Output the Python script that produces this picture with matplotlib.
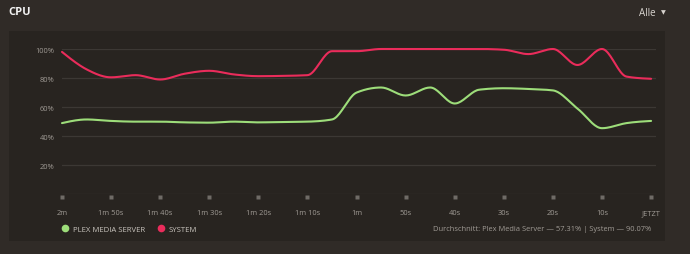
import matplotlib.pyplot as plt
import numpy as np
from matplotlib.lines import Line2D
from matplotlib.patches import Rectangle

# seconds since the start of the 2 minute window, one sample every 5 s
seconds = [0, 5, 10, 15, 20, 25, 30, 35, 40, 45, 50, 55, 60,
           65, 70, 75, 80, 85, 90, 95, 100, 105, 110, 115, 120]
plex = [49, 51.5, 50.5, 50, 50, 49.5, 49.3, 50, 49.5, 49.8, 50, 51.5, 70,
        73.5, 68, 73.5, 62.5, 72, 73, 72.5, 71.5, 59, 45.5, 49, 50.5]
system = [98, 86, 80.5, 82, 79, 83, 85, 82.5, 81.3, 81.5, 82, 98.5, 98.5,
          100, 100, 100, 100, 100, 99.5, 96.5, 100, 89, 100, 81, 79.5]
tick_pos = [0, 10, 20, 30, 40, 50, 60, 70, 80, 90, 100, 110, 120]
tick_labels = ['2m', '1m 50s', '1m 40s', '1m 30s', '1m 20s', '1m 10s', '1m',
               '50s', '40s', '30s', '20s', '10s', 'JETZT']
y_ticks = [20, 40, 60, 80, 100]

W, H = 690, 255
BG = '#302b27'
PANEL = '#282420'
GRID = '#3c3834'
TXT = '#a09b95'
GREEN = '#9ddd7a'
RED = '#ea2c5b'

plt.rcParams['font.family'] = ['Open Sans', 'DejaVu Sans']


def monotone(x, y, n=20):
    # d3 curveMonotoneX style slopes, evaluated as cubic hermite
    x = np.asarray(x, float)
    y = np.asarray(y, float)
    h = np.diff(x)
    s = np.diff(y) / h
    m = np.zeros_like(y)
    for i in range(1, len(x) - 1):
        p = (s[i - 1] * h[i] + s[i] * h[i - 1]) / (h[i - 1] + h[i])
        m[i] = (np.sign(s[i - 1]) + np.sign(s[i])) * min(abs(s[i - 1]), abs(s[i]), 0.5 * abs(p))
    m[0] = (3 * s[0] - m[1]) / 2
    m[-1] = (3 * s[-1] - m[-2]) / 2
    xs, ys = [], []
    for i in range(len(x) - 1):
        t = np.linspace(0, 1, n, endpoint=False)
        h00 = 2 * t**3 - 3 * t**2 + 1
        h10 = t**3 - 2 * t**2 + t
        h01 = -2 * t**3 + 3 * t**2
        h11 = t**3 - t**2
        xs.append(x[i] + t * h[i])
        ys.append(h00 * y[i] + h10 * h[i] * m[i] + h01 * y[i + 1] + h11 * h[i] * m[i + 1])
    xs.append([x[-1]])
    ys.append([y[-1]])
    return np.concatenate(xs), np.concatenate(ys)


def fx(px):
    return px / W


def fy(py):
    return 1 - py / H


fig = plt.figure(figsize=(W / 100, H / 100), dpi=100, facecolor=BG)
fig.patches.append(Rectangle((fx(9), fy(242)), fx(656), 210 / H,
                             transform=fig.transFigure, facecolor=PANEL,
                             edgecolor='none', zorder=-1))

ax = fig.add_axes([fx(62), fy(195.3), fx(656 - 62), (195.3 - 50) / H])
ax.set_facecolor('none')
ax.set_xlim(0, 121)
ax.set_ylim(0, 100)
for sp in ax.spines.values():
    sp.set_visible(False)

for v in [0] + y_ticks:
    ax.axhline(v, color=GRID, lw=0.9, zorder=1)

ax.set_yticks(y_ticks, [f'{v}%' for v in y_ticks])
ax.set_xticks(tick_pos, tick_labels)
ax.tick_params(axis='y', length=0, pad=5.5, labelsize=5.4, labelcolor=TXT)
ax.tick_params(axis='x', length=0, pad=10.5, labelsize=5.4, labelcolor=TXT)

ax.plot(tick_pos, [-1.65] * len(tick_pos), 's', ms=3.2, color='#6f6b66',
        mec='none', clip_on=False, zorder=2)

gx, gy = monotone(seconds, plex)
rx, ry = monotone(seconds, system)
ax.plot(gx, gy, color=GREEN, lw=1.5, clip_on=False, zorder=3,
        solid_capstyle='round')
ax.plot(rx, ry, color=RED, lw=1.5, clip_on=False, zorder=4,
        solid_capstyle='round')

handles = [Line2D([], [], ls='none', marker='o', ms=5.5, color=GREEN, mec='none'),
           Line2D([], [], ls='none', marker='o', ms=5.5, color=RED, mec='none')]
fig.legend(handles, ['PLEX MEDIA SERVER', 'SYSTEM'], ncol=2, frameon=False,
           loc='center left', bbox_to_anchor=(fx(58), fy(230)),
           prop={'size': 5.6}, labelcolor='#c9c4be', handletextpad=0.55,
           columnspacing=1.5, handlelength=1.0, borderaxespad=0)

fig.text(fx(651), fy(230), 'Durchschnitt: Plex Media Server \u2014 57.31% | System \u2014 90.07%',
         ha='right', va='center', fontsize=5.4, color=TXT)

fig.text(fx(8), fy(12.5), 'CPU', ha='left', va='center', fontsize=8,
         fontweight='bold', color='#f2f2f2')
fig.text(fx(656), fy(13), 'Alle', ha='right', va='center', fontsize=7,
         color='#d8d4cf')
fig.text(fx(663), fy(12.5), '\u25bc', ha='center', va='center', fontsize=4.5,
         color='#d8d4cf', family='DejaVu Sans')

fig.savefig('out.png', dpi=100, facecolor=BG)
